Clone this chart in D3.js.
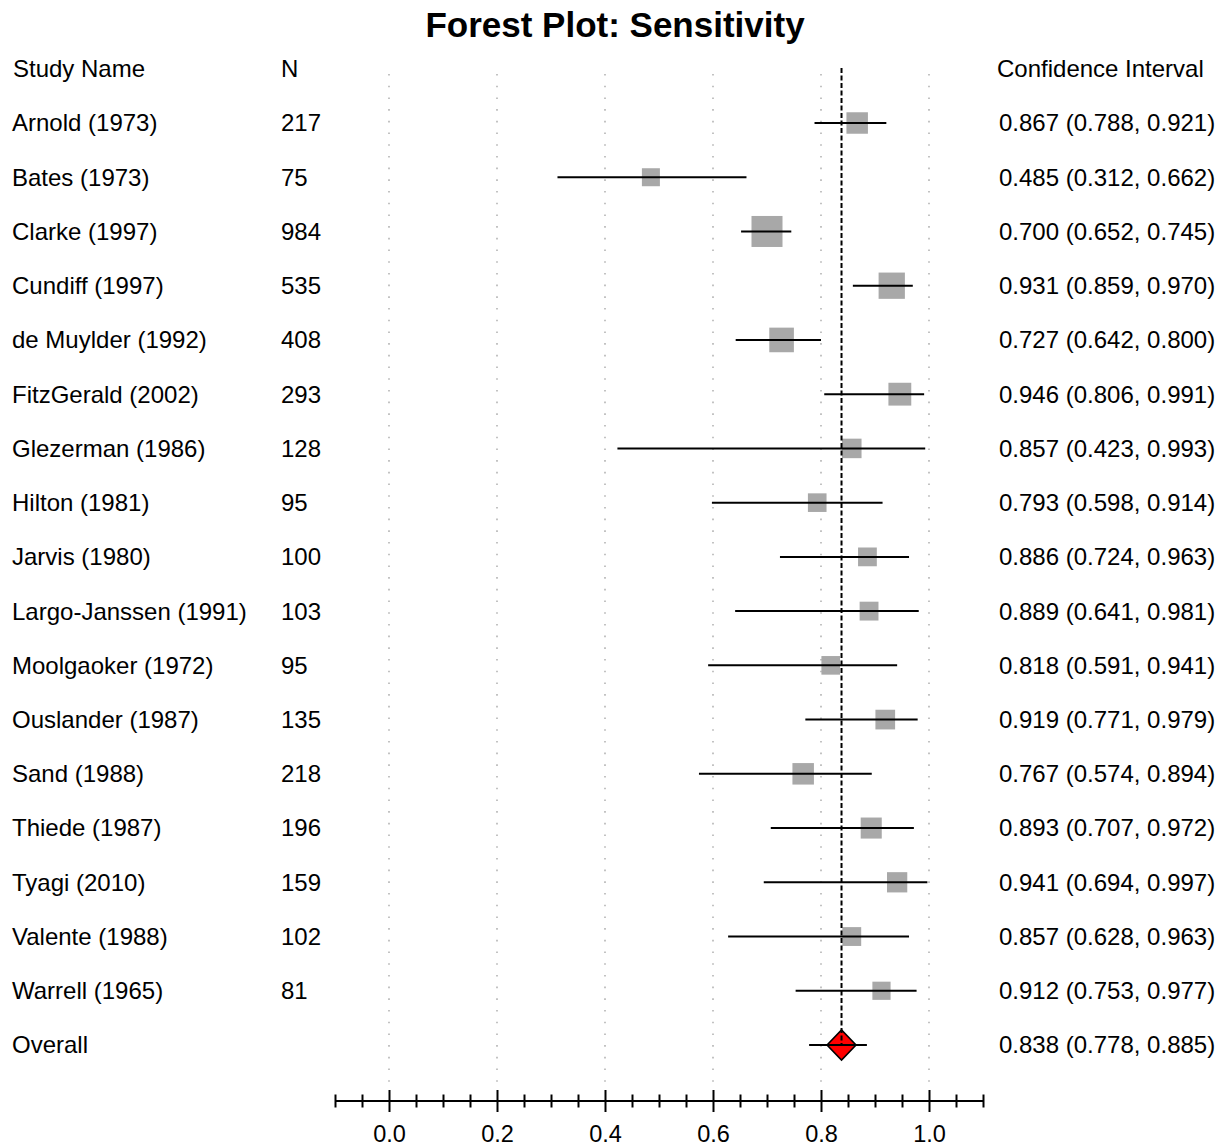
<!DOCTYPE html>
<html>
<head>
<meta charset="utf-8">
<script src="https://cdn.jsdelivr.net/npm/d3@7"></script>
<style>
  html, body { margin: 0; padding: 0; background: #fff; }
  svg { display: block; font-family: "Liberation Sans", Arial, sans-serif; }
</style>
</head>
<body>
<svg id="chart" width="1227" height="1148"></svg>
<script>
// Study-level sensitivity estimates with 95% confidence intervals
const studies = [
  "Arnold (1973)", "Bates (1973)", "Clarke (1997)", "Cundiff (1997)",
  "de Muylder (1992)", "FitzGerald (2002)", "Glezerman (1986)", "Hilton (1981)",
  "Jarvis (1980)", "Largo-Janssen (1991)", "Moolgaoker (1972)", "Ouslander (1987)",
  "Sand (1988)", "Thiede (1987)", "Tyagi (2010)", "Valente (1988)", "Warrell (1965)"
];
const sampleSize = [217, 75, 984, 535, 408, 293, 128, 95, 100, 103, 95, 135, 218, 196, 159, 102, 81];
const estimate = [0.867, 0.485, 0.700, 0.931, 0.727, 0.946, 0.857, 0.793, 0.886, 0.889, 0.818, 0.919, 0.767, 0.893, 0.941, 0.857, 0.912];
const lower    = [0.788, 0.312, 0.652, 0.859, 0.642, 0.806, 0.423, 0.598, 0.724, 0.641, 0.591, 0.771, 0.574, 0.707, 0.694, 0.628, 0.753];
const upper    = [0.921, 0.662, 0.745, 0.970, 0.800, 0.991, 0.993, 0.914, 0.963, 0.981, 0.941, 0.979, 0.894, 0.972, 0.997, 0.963, 0.977];

// Pooled estimate
const overallLabel = "Overall";
const overallEstimate = 0.838;
const overallLower = 0.778;
const overallUpper = 0.885;

// Axis ticks
const majorTicks = [0.0, 0.2, 0.4, 0.6, 0.8, 1.0];
const minorTicks = [-0.1, -0.05, 0.05, 0.1, 0.15, 0.25, 0.3, 0.35, 0.45, 0.5, 0.55,
                    0.65, 0.7, 0.75, 0.85, 0.9, 0.95, 1.05, 1.1];

const titleText = "Forest Plot: Sensitivity";
const headers = { name: "Study Name", n: "N", ci: "Confidence Interval" };

const rows = studies.map((s, i) => ({
  name: s, n: sampleSize[i], est: estimate[i], lo: lower[i], hi: upper[i]
}));

const svg = d3.select("#chart");
const fmt = d3.format(".3f");
const fontSize = 24;

const x = d3.scaleLinear().domain([-0.1, 1.1]).range([335, 983]);
const rowKeys = d3.range(rows.length + 1);
const y = d3.scalePoint().domain(rowKeys).range([123, 1045]);
const headerY = y(0) - (y(1) - y(0));
const axisY = 1101;

// Square side grows with the square root of the sample size
const boxSize = d3.scalePow().exponent(0.5).domain([75, 984]).range([18, 31]);

// Title
svg.append("text")
  .attr("x", 615).attr("y", 37)
  .attr("text-anchor", "middle")
  .attr("font-size", 35).attr("font-weight", "bold")
  .text(titleText);

// Dotted reference gridlines
svg.append("g").selectAll("line").data(majorTicks).join("line")
  .attr("x1", d => x(d)).attr("x2", d => x(d))
  .attr("y1", 74).attr("y2", 1088)
  .attr("stroke", "#b4b4b4").attr("stroke-width", 1.6)
  .attr("stroke-dasharray", "1.6,10.1");

// Column headers
const headerG = svg.append("g").attr("font-size", fontSize).attr("fill", "#000");
headerG.append("text").attr("x", 13).attr("y", headerY).attr("dy", "0.35em").text(headers.name);
headerG.append("text").attr("x", 281).attr("y", headerY).attr("dy", "0.35em").text(headers.n);
headerG.append("text").attr("x", 997).attr("y", headerY).attr("dy", "0.35em").text(headers.ci);

// Weight squares
svg.append("g").selectAll("rect").data(rows).join("rect")
  .attr("x", d => x(d.est) - boxSize(d.n) / 2)
  .attr("y", (d, i) => y(i) - boxSize(d.n) / 2)
  .attr("width", d => boxSize(d.n))
  .attr("height", d => boxSize(d.n))
  .attr("fill", "#a8a8a8");

// Pooled diamond
const oy = y(rows.length);
const ox = x(overallEstimate);
svg.append("path")
  .attr("d", `M${ox - 14.5},${oy} L${ox},${oy - 15} L${ox + 14.5},${oy} L${ox},${oy + 15} Z`)
  .attr("fill", "#ff0000").attr("stroke", "#000").attr("stroke-width", 1.6);

// Confidence interval whiskers
svg.append("g").selectAll("line").data(rows).join("line")
  .attr("x1", d => x(d.lo)).attr("x2", d => x(d.hi))
  .attr("y1", (d, i) => y(i)).attr("y2", (d, i) => y(i))
  .attr("stroke", "#000").attr("stroke-width", 2);
svg.append("line")
  .attr("x1", x(overallLower)).attr("x2", x(overallUpper))
  .attr("y1", oy).attr("y2", oy)
  .attr("stroke", "#000").attr("stroke-width", 2);

// Dashed line at the pooled estimate
svg.append("line")
  .attr("x1", ox).attr("x2", ox)
  .attr("y1", 68).attr("y2", oy)
  .attr("stroke", "#000").attr("stroke-width", 2)
  .attr("stroke-dasharray", "5,2.5");

// Study names, sample sizes and interval labels
const textG = svg.append("g").attr("font-size", fontSize).attr("fill", "#000");
textG.selectAll(".name").data(rows).join("text").attr("class", "name")
  .attr("x", 12).attr("y", (d, i) => y(i)).attr("dy", "0.35em").text(d => d.name);
textG.selectAll(".n").data(rows).join("text").attr("class", "n")
  .attr("x", 281).attr("y", (d, i) => y(i)).attr("dy", "0.35em").text(d => d.n);
textG.selectAll(".ci").data(rows).join("text").attr("class", "ci")
  .attr("x", 999).attr("y", (d, i) => y(i)).attr("dy", "0.35em")
  .text(d => `${fmt(d.est)} (${fmt(d.lo)}, ${fmt(d.hi)})`);
textG.append("text").attr("x", 12).attr("y", oy).attr("dy", "0.35em").text(overallLabel);
textG.append("text").attr("x", 999).attr("y", oy).attr("dy", "0.35em")
  .text(`${fmt(overallEstimate)} (${fmt(overallLower)}, ${fmt(overallUpper)})`);

// Bottom axis: major ticks with labels, minor ticks without
const axisG = svg.append("g").attr("transform", `translate(0,${axisY})`);
const majorAxis = axisG.append("g")
  .call(d3.axisBottom(x).tickValues(majorTicks).tickFormat(d3.format(".1f")).tickSizeOuter(0));
majorAxis.select(".domain").attr("stroke", "#000").attr("stroke-width", 2)
  .attr("d", `M${x(-0.1)},0H${x(1.1)}`);
majorAxis.selectAll(".tick line").attr("y1", -11).attr("y2", 11)
  .attr("stroke", "#000").attr("stroke-width", 2);
majorAxis.selectAll(".tick text")
  .attr("y", 33).attr("dy", "0.35em")
  .attr("font-size", 23.5).attr("font-family", "Liberation Sans, Arial, sans-serif")
  .attr("fill", "#000");

const minorAxis = axisG.append("g")
  .call(d3.axisBottom(x).tickValues(minorTicks).tickFormat("").tickSizeOuter(0));
minorAxis.select(".domain").remove();
minorAxis.selectAll(".tick line").attr("y1", -6.5).attr("y2", 6.5)
  .attr("stroke", "#000").attr("stroke-width", 2);
</script>
</body>
</html>
